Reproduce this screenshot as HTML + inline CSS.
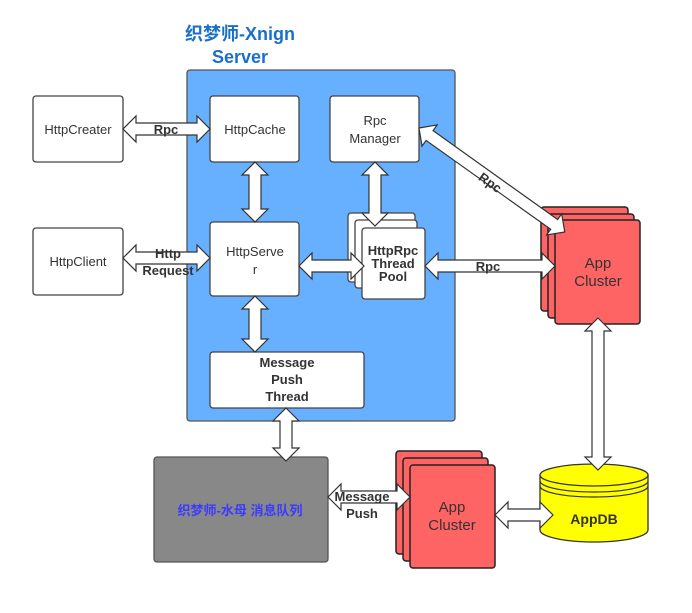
<!DOCTYPE html>
<html><head><meta charset="utf-8"><style>body{margin:0;background:#fff}svg{display:block}</style></head><body>
<svg width="692" height="613" viewBox="0 0 692 613" xmlns="http://www.w3.org/2000/svg" font-family="'Liberation Sans','Noto Sans CJK SC',sans-serif">
<defs>
<style>.b{fill:#fff;stroke:#444;stroke-width:1.3}.t{font-size:13px;fill:#333;text-anchor:middle}.bt{font-size:13px;fill:#333;font-weight:bold;text-anchor:middle}.a{fill:#fff;stroke:#333;stroke-width:1.2}</style>
</defs>
<text x="240" y="40" font-size="18" font-weight="bold" fill="#1a6fc8" text-anchor="middle">织梦师-Xnign</text>
<text x="240" y="63" font-size="18" font-weight="bold" fill="#1a6fc8" text-anchor="middle">Server</text>
<rect x="187" y="70" width="268" height="351" rx="3" fill="#66b0ff" stroke="#555" stroke-width="1.3"/>
<rect class="b" x="33" y="96" width="90" height="66" rx="3"/>
<text class="t" x="78" y="134">HttpCreater</text>
<rect class="b" x="33" y="228" width="90" height="67" rx="3"/>
<text class="t" x="78" y="266">HttpClient</text>
<rect class="b" x="210" y="96" width="89" height="66" rx="3"/>
<text class="t" x="255" y="134" font-size="14">HttpCache</text>
<rect class="b" x="330" y="96" width="89" height="66" rx="3"/>
<text class="t" x="375" y="125" font-size="14">Rpc</text><text class="t" x="375" y="143" font-size="14">Manager</text>
<rect class="b" x="210" y="222" width="89" height="74" rx="3"/>
<text class="t" x="255" y="256" font-size="14">HttpServe</text><text class="t" x="255" y="274" font-size="14">r</text>
<rect class="b" x="348" y="213" width="67" height="69" rx="3"/>
<rect class="b" x="355" y="220" width="62" height="68" rx="3"/>
<rect class="b" x="362" y="228" width="63" height="71" rx="3"/>
<text class="bt" x="393" y="255" font-size="11">HttpRpc</text><text class="bt" x="393" y="268" font-size="11">Thread</text><text class="bt" x="393" y="281" font-size="11">Pool</text>
<rect class="b" x="210" y="352" width="154" height="56" rx="3"/>
<text class="bt" x="287" y="367" font-size="14">Message</text><text class="bt" x="287" y="384" font-size="14">Push</text><text class="bt" x="287" y="401" font-size="14">Thread</text>
<rect x="154" y="457" width="174" height="105" rx="3" fill="#888" stroke="#555" stroke-width="1.3"/>
<text x="240" y="515" font-size="13" font-weight="bold" fill="#3b3bff" text-anchor="middle">织梦师-水母 消息队列</text>
<g fill="#ff6464" stroke="#222" stroke-width="1.5">
<rect x="541" y="207" width="87" height="104" rx="3"/><rect x="548" y="214" width="86" height="104" rx="3"/><rect x="555" y="220" width="85" height="104" rx="3"/>
<rect x="396" y="451" width="86" height="103" rx="3"/><rect x="403" y="458" width="85" height="103" rx="3"/><rect x="410" y="465" width="85" height="103" rx="3"/>
</g>
<text x="598" y="268" font-size="15" fill="#333" text-anchor="middle">App</text><text x="598" y="286" font-size="15" fill="#333" text-anchor="middle">Cluster</text>
<text x="452" y="512" font-size="15" fill="#333" text-anchor="middle">App</text><text x="452" y="530" font-size="15" fill="#333" text-anchor="middle">Cluster</text>
<path d="M540,475 L540,530 A54,12 0 0 0 648,530 L648,475 Z" fill="#ffff00" stroke="#333" stroke-width="1.3"/>
<ellipse cx="594" cy="475" rx="54" ry="11" fill="#ffff00" stroke="#333" stroke-width="1.3"/>
<path d="M540,481 A54,11 0 0 0 648,481 M540,486 A54,11 0 0 0 648,486" fill="none" stroke="#333" stroke-width="1.2"/>
<text x="594" y="524" font-size="14" font-weight="bold" fill="#333" text-anchor="middle">AppDB</text>
<g class="a">
<polygon transform="translate(123,129)" points="0,0 13,-13 13,-6 74,-6 74,-13 87,0 74,13 74,6 13,6 13,13"/>
<polygon transform="translate(123,258)" points="0,0 13,-13 13,-6 74,-6 74,-13 87,0 74,13 74,6 13,6 13,13"/>
<polygon transform="translate(255,162) rotate(90)" points="0,0 13,-13 13,-6 47,-6 47,-13 60,0 47,13 47,6 13,6 13,13"/>
<polygon transform="translate(375,162) rotate(90)" points="0,0 13,-13 13,-6 51,-6 51,-13 64,0 51,13 51,6 13,6 13,13"/>
<polygon transform="translate(299,266)" points="0,0 13,-13 13,-6 52,-6 52,-13 65,0 52,13 52,6 13,6 13,13"/>
<polygon transform="translate(425,266)" points="0,0 13,-13 13,-6 117,-6 117,-13 130,0 117,13 117,6 13,6 13,13"/>
<polygon transform="translate(419,128) rotate(35.5)" points="0,0 13,-13 13,-6 166,-6 166,-13 179,0 166,13 166,6 13,6 13,13"/>
<polygon transform="translate(255,296) rotate(90)" points="0,0 13,-13 13,-6 43,-6 43,-13 56,0 43,13 43,6 13,6 13,13"/>
<polygon transform="translate(286,408) rotate(90)" points="0,0 13,-13 13,-6 40,-6 40,-13 53,0 40,13 40,6 13,6 13,13"/>
<polygon transform="translate(328,497)" points="0,0 13,-13 13,-6 69,-6 69,-13 82,0 69,13 69,6 13,6 13,13"/>
<polygon transform="translate(495,515)" points="0,0 13,-13 13,-6 45,-6 45,-13 58,0 45,13 45,6 13,6 13,13"/>
<polygon transform="translate(598,318) rotate(90)" points="0,0 13,-13 13,-6 139,-6 139,-13 152,0 139,13 139,6 13,6 13,13"/>
</g>
<text class="bt" x="166" y="134" font-size="14">Rpc</text>
<text class="bt" x="168" y="258" font-size="14">Http</text><text class="bt" x="168" y="275" font-size="14">Request</text>
<text class="bt" x="488" y="271" font-size="14">Rpc</text>
<text class="bt" x="490" y="187" transform="rotate(35.5 490 183)" font-size="14">Rpc</text>
<text class="bt" x="362" y="501" font-size="14">Message</text><text class="bt" x="362" y="518" font-size="14">Push</text>
</svg>
</body></html>
